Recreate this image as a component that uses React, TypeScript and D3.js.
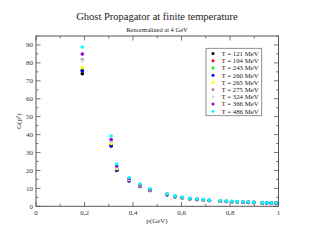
import React from "react";
import * as d3 from "d3";

const momenta = [0.191, 0.31, 0.333, 0.384, 0.429, 0.47, 0.541, 0.573, 0.603, 0.634, 0.664, 0.69, 0.715, 0.76, 0.785, 0.808, 0.83, 0.854, 0.875, 0.898, 0.933, 0.951, 0.97, 0.99];

const seriesNames = ["T = 121 MeV", "T = 194 MeV", "T = 243 MeV", "T = 260 MeV", "T = 265 MeV", "T = 275 MeV", "T = 324 MeV", "T = 366 MeV", "T = 486 MeV"];
const seriesColors = ["#000000", "#ff0000", "#00ff00", "#0000ff", "#ffff00", "#bc8f8f", "#dcdcdc", "#9400d3", "#00ffff"];

const g121 = [74.0, 33.6, 20.0, 14.2, 11.1, 8.8, 6.4, 5.3, 4.7, 4.1, 3.8, 3.5, 3.2, 2.8, 2.7, 2.5, 2.4, 2.3, 2.2, 2.1, 1.9, 1.8, 1.75, 1.7];
const g194 = [75.5, 34.0, 20.3, 14.4, 11.2, 8.9, 6.5, 5.35, 4.7, 4.15, 3.8, 3.5, 3.2, 2.85, 2.7, 2.55, 2.45, 2.3, 2.2, 2.1, 1.9, 1.85, 1.75, 1.7];
const g243 = [76.2, 34.3, 20.5, 14.5, 11.3, 9.0, 6.5, 5.4, 4.75, 4.2, 3.85, 3.55, 3.25, 2.85, 2.75, 2.55, 2.45, 2.35, 2.25, 2.15, 1.9, 1.85, 1.8, 1.75];
const g260 = [75.6, 33.8, 20.2, 14.3, 11.2, 8.9, 6.5, 5.35, 4.7, 4.15, 3.8, 3.5, 3.2, 2.85, 2.7, 2.55, 2.45, 2.3, 2.2, 2.1, 1.9, 1.85, 1.75, 1.7];
const g265 = [77.4, 35.0, 21.0, 14.8, 11.5, 9.1, 6.6, 5.4, 4.8, 4.2, 3.85, 3.55, 3.25, 2.9, 2.75, 2.6, 2.45, 2.35, 2.25, 2.15, 1.95, 1.85, 1.8, 1.75];
const g275 = [81.8, 36.2, 21.8, 15.2, 11.7, 9.3, 6.7, 5.5, 4.85, 4.3, 3.9, 3.6, 3.3, 2.9, 2.8, 2.6, 2.5, 2.4, 2.3, 2.2, 1.95, 1.9, 1.8, 1.75];
const g324 = [81.0, 36.0, 21.6, 15.1, 11.6, 9.3, 6.7, 5.5, 4.85, 4.3, 3.9, 3.6, 3.3, 2.9, 2.8, 2.6, 2.5, 2.4, 2.3, 2.2, 1.95, 1.9, 1.8, 1.75];
const g366 = [85.0, 37.3, 22.5, 15.5, 11.9, 9.4, 6.8, 5.6, 4.9, 4.35, 3.95, 3.65, 3.35, 2.95, 2.8, 2.65, 2.5, 2.4, 2.3, 2.2, 2.0, 1.9, 1.85, 1.8];
const g486 = [88.9, 39.2, 23.6, 16.1, 12.4, 9.8, 7.0, 5.8, 5.1, 4.5, 4.1, 3.75, 3.45, 3.05, 2.9, 2.75, 2.6, 2.5, 2.4, 2.3, 2.05, 1.95, 1.9, 1.85];

const seriesValues = [g121, g194, g243, g260, g265, g275, g324, g366, g486];

const xMajorTicks = [0, 0.2, 0.4, 0.6, 0.8, 1];
const xTickLabels = ["0", "0,2", "0,4", "0,6", "0,8", "1"];
const xMinorTicks = [0.1, 0.3, 0.5, 0.7, 0.9];
const yMajorTicks = [0, 10, 20, 30, 40, 50, 60, 70, 80, 90];
const yMinorTicks = [5, 15, 25, 35, 45, 55, 65, 75, 85, 95];

const W = 314;
const H = 243;
const L = 36;
const R = 278.5;
const T = 36;
const B = 206.3;
const FONT = "'Liberation Serif', 'DejaVu Serif', serif";
const AX = "#555";

export default function App() {
  const x = d3.scaleLinear().domain([0, 1]).range([L, R]);
  const y = d3.scaleLinear().domain([0, 95]).range([B, T]);
  const major = 4.5;
  const minor = 2.5;

  return (
    <svg width={W} height={H} style={{ position: "absolute", left: 0, top: 0, background: "#fff" }}>
      <text x={157} y={20} textAnchor="middle" fontFamily={FONT} fontSize={10.5} fill="#222">
        Ghost Propagator at finite temperature
      </text>
      <text x={157} y={31.5} textAnchor="middle" fontFamily={FONT} fontSize={6.5} fill="#222">
        Renormalized at 4 GeV
      </text>

      {/* ticks */}
      {xMajorTicks.map((t, i) => (
        <g key={"xm" + i}>
          <line x1={x(t)} x2={x(t)} y1={B} y2={B - major} stroke={AX} strokeWidth={0.8} />
          <line x1={x(t)} x2={x(t)} y1={T} y2={T + major} stroke={AX} strokeWidth={0.8} />
          <text x={x(t)} y={B + 8.5} textAnchor="middle" fontFamily={FONT} fontSize={7} fill="#333">
            {xTickLabels[i]}
          </text>
        </g>
      ))}
      {xMinorTicks.map((t, i) => (
        <g key={"xn" + i}>
          <line x1={x(t)} x2={x(t)} y1={B} y2={B - minor} stroke={AX} strokeWidth={0.8} />
          <line x1={x(t)} x2={x(t)} y1={T} y2={T + minor} stroke={AX} strokeWidth={0.8} />
        </g>
      ))}
      {yMajorTicks.map((t, i) => (
        <g key={"ym" + i}>
          <line x1={L} x2={L + major} y1={y(t)} y2={y(t)} stroke={AX} strokeWidth={0.8} />
          <line x1={R} x2={R - major} y1={y(t)} y2={y(t)} stroke={AX} strokeWidth={0.8} />
          <text x={L - 3} y={y(t) + 2.4} textAnchor="end" fontFamily={FONT} fontSize={7} fill="#333">
            {t}
          </text>
        </g>
      ))}
      {yMinorTicks.map((t, i) => (
        <g key={"yn" + i}>
          <line x1={L} x2={L + minor} y1={y(t)} y2={y(t)} stroke={AX} strokeWidth={0.8} />
          <line x1={R} x2={R - minor} y1={y(t)} y2={y(t)} stroke={AX} strokeWidth={0.8} />
        </g>
      ))}
      <rect x={L} y={T} width={R - L} height={B - T} fill="none" stroke={AX} strokeWidth={1} />

      <text x={157} y={222.5} textAnchor="middle" fontFamily={FONT} fontSize={7} fill="#333">
        p(GeV)
      </text>
      <text
        transform={`translate(${21},${(T + B) / 2}) rotate(-90)`}
        textAnchor="middle"
        fontFamily={FONT}
        fontSize={7}
        fill="#333"
      >
        G(p<tspan dy={-2.5} fontSize={5}>2</tspan><tspan dy={2.5}>)</tspan>
      </text>

      {/* points */}
      {seriesValues.map((vals, si) => (
        <g key={"s" + si}>
          {vals.map((v, i) => (
            <circle key={i} cx={x(momenta[i])} cy={y(v)} r={1.8} fill={seriesColors[si]} />
          ))}
        </g>
      ))}

      {/* legend */}
      <rect x={206} y={48.3} width={55.7} height={67.4} fill="#fff" stroke="#777" strokeWidth={0.8} />
      {seriesNames.map((name, i) => (
        <g key={"l" + i}>
          <circle cx={213} cy={53.6 + i * 7.2} r={1.5} fill={seriesColors[i]} />
          <text x={221.5} y={56 + i * 7.2} fontFamily={FONT} fontSize={6.8} fill="#222">
            {name}
          </text>
        </g>
      ))}
    </svg>
  );
}
